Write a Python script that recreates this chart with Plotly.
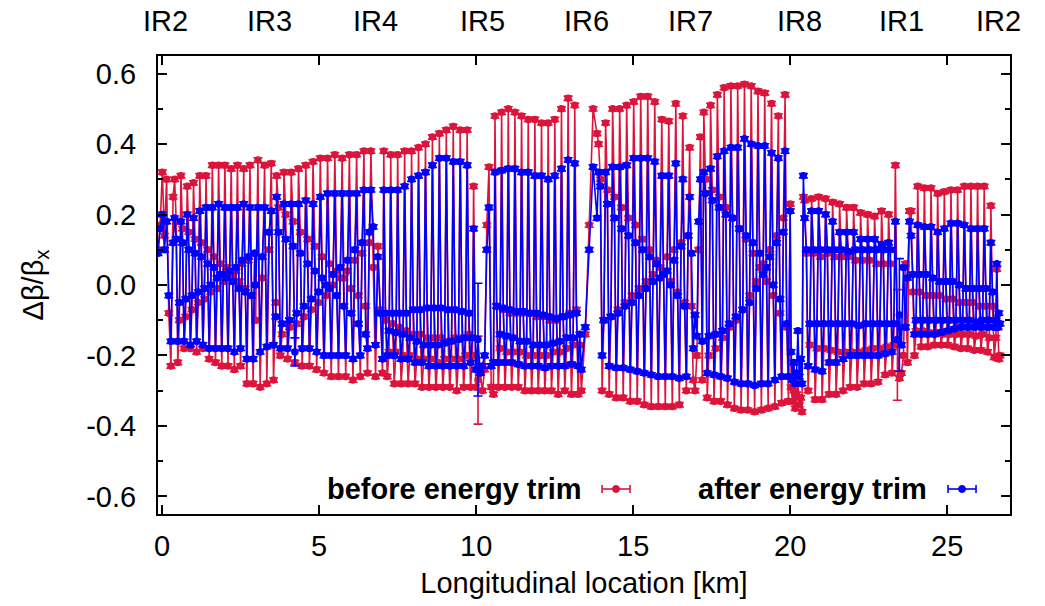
import numpy as np
import plotly.graph_objects as go

FONT = "Liberation Sans, Arial, Helvetica, sans-serif"
RED = "#DC143C"
BLUE = "#0000FF"
FS = 29

# ---------------- axis ticks / labels ----------------
x_tick_vals = [0, 5, 10, 15, 20, 25]
x_tick_text = ["0", "5", "10", "15", "20", "25"]
y_tick_vals = [-0.6, -0.4, -0.2, 0.0, 0.2, 0.4, 0.6]
y_tick_text = ["-0.6", "-0.4", "-0.2", "0.0", "0.2", "0.4", "0.6"]
y_minor_vals = [-0.5, -0.3, -0.1, 0.1, 0.3, 0.5]
ir_names = ["IR2", "IR3", "IR4", "IR5", "IR6", "IR7", "IR8", "IR1", "IR2"]
ir_label_km = [0.10, 3.42, 6.79, 10.2, 13.5, 16.82, 20.3, 23.53, 26.62]

ERR = 0.006  # typical BPM error bar

# ---------------- insertion regions (explicit BPM readings) ----------------
ir2a_km = (-0.13, 0.35)
ir2a_red = [0.10, 0.17, 0.32, 0.14, 0.30, -0.08, -0.23, 0.25]
ir2a_blue = [0.09, 0.16, 0.20, 0.10, 0.18, -0.03, -0.16, 0.12]

ir3_km = (2.98, 3.62)
ir3_red = [-0.10, 0.355, -0.29, 0.02, 0.34, -0.28, 0.10, 0.345, -0.27, -0.05]
ir3_blue = [0.00, 0.22, -0.19, 0.08, 0.22, -0.175, 0.15, 0.21, -0.17, -0.09]

ir4_km = (6.65, 7.02)
ir4_red = [0.38, 0.05, -0.26, 0.11, -0.07, -0.25]
ir4_blue = [0.27, 0.165, -0.17, 0.08, -0.08, -0.21]

ir5_km = (9.92, 10.55)
ir5_red = [0.28, -0.29, -0.27, -0.25, -0.30, -0.24, 0.17, 0.335, -0.29, -0.31]
ir5_red_err = [ERR, ERR, 0.125, ERR, ERR, ERR, ERR, ERR, ERR, ERR]
ir5_blue = [0.16, -0.24, -0.155, -0.25, -0.23, -0.20, 0.10, 0.22, -0.23, -0.22]
ir5_blue_err = [ERR, ERR, 0.16, ERR, ERR, ERR, ERR, ERR, ERR, ERR]

ir6_km = (13.35, 13.85)
ir6_red = [-0.30, -0.14, 0.17, 0.50, 0.43]
ir6_blue = [-0.24, -0.12, 0.10, 0.335, 0.19]

ir7_km = (16.80, 17.20)
ir7_red = [0.39, -0.06, -0.27, -0.30, -0.20, 0.10, 0.42, -0.27]
ir7_blue = [0.25, 0.09, -0.18, -0.085, -0.145, 0.18, 0.30, -0.16]

ir8_km = (20.03, 20.42)
ir8_red = [-0.29, -0.33, -0.30, -0.35, -0.31, -0.28, -0.34, -0.32, -0.36, 0.25]
ir8_blue = [-0.19, -0.27, -0.22, -0.28, -0.25, -0.13, -0.26, -0.21, -0.28, 0.31]

ir1_km = (23.35, 23.80)
ir1_red = [0.34, -0.17, -0.265, -0.25, -0.20, 0.06, -0.22, 0.21]
ir1_red_err = [ERR, 0.157, ERR, ERR, ERR, ERR, ERR, ERR]
ir1_blue = [0.18, -0.155, -0.085, -0.17, 0.05, -0.12, 0.02, 0.18]
ir1_blue_err = [ERR, ERR, 0.16, ERR, ERR, ERR, ERR, ERR]

ir2b_km = (26.58, 26.68)
ir2b_red = [0.045, -0.12, -0.21, -0.20]
ir2b_blue = [0.06, -0.12, -0.08, -0.11]

# ---------------- arcs: readings per BPM family (top, mid A, bottom, mid B) ----------------
arc1_km = (0.40, 2.95)
arc1_red_top = [0.30, 0.31, 0.28, 0.29, 0.31, 0.31, 0.34, 0.34, 0.34, 0.33, 0.34, 0.33, 0.34]
arc1_red_mida = [0.18, 0.16, 0.15, 0.13, 0.12, 0.10, 0.08, 0.06, 0.05, 0.03, 0.01, -0.01, -0.03]
arc1_red_bot = [-0.22, -0.18, -0.18, -0.19, -0.18, -0.21, -0.22, -0.23, -0.23, -0.24, -0.23, -0.28, -0.28]
arc1_red_midb = [-0.10, -0.09, -0.07, -0.05, -0.04, -0.02, -0.01, 0.01, 0.03, 0.04, 0.06, 0.07, 0.09]
arc1_blue_top = [0.19, 0.18, 0.20, 0.19, 0.21, 0.22, 0.22, 0.23, 0.22, 0.22, 0.22, 0.23, 0.22]
arc1_blue_mida = [0.13, 0.12, 0.10, 0.09, 0.08, 0.06, 0.05, 0.03, 0.02, 0.01, -0.01, -0.02, -0.03]
arc1_blue_bot = [-0.16, -0.16, -0.17, -0.16, -0.17, -0.18, -0.18, -0.18, -0.18, -0.19, -0.18, -0.21, -0.21]
arc1_blue_midb = [-0.05, -0.04, -0.03, -0.02, -0.01, 0.00, 0.02, 0.03, 0.04, 0.05, 0.07, 0.08, 0.09]

arc2_km = (3.65, 6.60)
arc2_red_top = [0.31, 0.32, 0.32, 0.33, 0.34, 0.35, 0.36, 0.36, 0.37, 0.36, 0.37, 0.37, 0.38]
arc2_red_mida = [0.22, 0.20, 0.18, 0.15, 0.13, 0.11, 0.08, 0.06, 0.04, 0.02, -0.01, -0.03, -0.06]
arc2_red_bot = [-0.20, -0.21, -0.22, -0.23, -0.23, -0.24, -0.25, -0.26, -0.26, -0.26, -0.27, -0.26, -0.25]
arc2_red_midb = [-0.14, -0.12, -0.11, -0.09, -0.07, -0.05, -0.03, 0.00, 0.02, 0.04, 0.07, 0.09, 0.12]
arc2_blue_top = [0.25, 0.23, 0.23, 0.23, 0.24, 0.23, 0.25, 0.26, 0.26, 0.26, 0.26, 0.26, 0.27]
arc2_blue_mida = [0.15, 0.13, 0.11, 0.09, 0.06, 0.04, 0.02, -0.01, -0.03, -0.06, -0.08, -0.11, -0.14]
arc2_blue_bot = [-0.18, -0.18, -0.19, -0.18, -0.18, -0.19, -0.20, -0.20, -0.20, -0.20, -0.21, -0.20, -0.18]
arc2_blue_midb = [-0.11, -0.10, -0.08, -0.06, -0.04, -0.02, 0.00, 0.03, 0.05, 0.07, 0.10, 0.12, 0.15]

arc3_km = (7.06, 9.88)
arc3_red_top = [0.38, 0.37, 0.37, 0.38, 0.38, 0.39, 0.40, 0.42, 0.43, 0.44, 0.45, 0.44, 0.44]
arc3_red_mida = [-0.10, -0.11, -0.12, -0.13, -0.14, -0.14, -0.15, -0.15, -0.15, -0.16, -0.15, -0.15, -0.14]
arc3_red_bot = [-0.26, -0.28, -0.28, -0.28, -0.28, -0.29, -0.29, -0.29, -0.29, -0.29, -0.30, -0.29, -0.29]
arc3_red_midb = [-0.19, -0.19, -0.20, -0.20, -0.21, -0.21, -0.21, -0.22, -0.21, -0.21, -0.21, -0.20, -0.20]
arc3_blue_top = [0.27, 0.27, 0.27, 0.28, 0.30, 0.31, 0.32, 0.34, 0.36, 0.36, 0.35, 0.35, 0.34]
arc3_blue_mida = [-0.08, -0.08, -0.08, -0.08, -0.07, -0.07, -0.065, -0.065, -0.065, -0.07, -0.07, -0.075, -0.08]
arc3_blue_bot = [-0.20, -0.20, -0.21, -0.21, -0.22, -0.22, -0.23, -0.23, -0.23, -0.23, -0.23, -0.23, -0.22]
arc3_blue_midb = [-0.13, -0.135, -0.14, -0.15, -0.16, -0.17, -0.17, -0.17, -0.165, -0.16, -0.155, -0.15, -0.15]

arc4_km = (10.60, 13.30)
arc4_red_top = [0.48, 0.49, 0.50, 0.49, 0.48, 0.47, 0.47, 0.46, 0.46, 0.47, 0.50, 0.53, 0.51]
arc4_red_mida = [-0.06, -0.07, -0.08, -0.08, -0.08, -0.08, -0.09, -0.09, -0.10, -0.10, -0.09, -0.08, -0.07]
arc4_red_bot = [-0.29, -0.29, -0.29, -0.29, -0.30, -0.30, -0.30, -0.30, -0.30, -0.31, -0.30, -0.31, -0.31]
arc4_red_midb = [-0.18, -0.19, -0.19, -0.19, -0.20, -0.20, -0.20, -0.20, -0.19, -0.19, -0.18, -0.17, -0.17]
arc4_blue_top = [0.32, 0.325, 0.33, 0.33, 0.32, 0.32, 0.31, 0.31, 0.30, 0.31, 0.33, 0.355, 0.345]
arc4_blue_mida = [-0.06, -0.065, -0.07, -0.075, -0.075, -0.08, -0.08, -0.085, -0.09, -0.095, -0.09, -0.085, -0.08]
arc4_blue_bot = [-0.22, -0.22, -0.22, -0.225, -0.23, -0.23, -0.23, -0.235, -0.23, -0.23, -0.23, -0.225, -0.23]
arc4_blue_midb = [-0.14, -0.145, -0.15, -0.16, -0.16, -0.17, -0.17, -0.17, -0.165, -0.16, -0.15, -0.15, -0.14]

arc5_km = (13.90, 16.75)
arc5_red_top = [0.40, 0.46, 0.50, 0.50, 0.51, 0.52, 0.535, 0.535, 0.52, 0.47, 0.465, 0.515, 0.48]
arc5_red_mida = [0.30, 0.27, 0.25, 0.22, 0.19, 0.17, 0.13, 0.10, 0.07, 0.04, 0.01, -0.02, -0.05]
arc5_red_bot = [-0.30, -0.31, -0.32, -0.32, -0.33, -0.33, -0.34, -0.345, -0.345, -0.345, -0.345, -0.34, -0.30]
arc5_red_midb = [-0.10, -0.09, -0.07, -0.05, -0.03, -0.01, 0.01, 0.03, 0.05, 0.08, 0.10, 0.12, 0.14]
arc5_blue_top = [0.32, 0.32, 0.335, 0.335, 0.34, 0.36, 0.36, 0.36, 0.35, 0.31, 0.31, 0.345, 0.30]
arc5_blue_mida = [0.28, 0.23, 0.19, 0.16, 0.14, 0.12, 0.10, 0.08, 0.06, 0.03, 0.00, -0.03, -0.06]
arc5_blue_bot = [-0.20, -0.23, -0.235, -0.235, -0.24, -0.245, -0.25, -0.255, -0.26, -0.26, -0.26, -0.265, -0.26]
arc5_blue_midb = [-0.10, -0.09, -0.08, -0.06, -0.05, -0.03, -0.01, 0.01, 0.02, 0.04, 0.07, 0.11, 0.14]

arc6_km = (17.25, 20.00)
arc6_red_top = [0.49, 0.51, 0.54, 0.56, 0.565, 0.565, 0.57, 0.565, 0.55, 0.545, 0.515, 0.48, 0.54]
arc6_red_mida = [0.30, 0.27, 0.25, 0.22, 0.19, 0.16, 0.13, 0.09, 0.05, 0.01, -0.03, -0.08, -0.12]
arc6_red_bot = [-0.32, -0.33, -0.33, -0.34, -0.35, -0.355, -0.355, -0.36, -0.355, -0.35, -0.345, -0.335, -0.33]
arc6_red_midb = [-0.20, -0.18, -0.15, -0.12, -0.10, -0.07, -0.03, 0.01, 0.06, 0.10, 0.14, 0.19, 0.23]
arc6_blue_top = [0.32, 0.33, 0.365, 0.38, 0.39, 0.39, 0.415, 0.40, 0.395, 0.395, 0.375, 0.36, 0.38]
arc6_blue_mida = [0.26, 0.24, 0.22, 0.20, 0.19, 0.16, 0.14, 0.12, 0.09, 0.05, 0.00, -0.04, -0.11]
arc6_blue_bot = [-0.25, -0.255, -0.26, -0.265, -0.275, -0.28, -0.28, -0.285, -0.28, -0.28, -0.27, -0.26, -0.26]
arc6_blue_midb = [-0.145, -0.14, -0.13, -0.11, -0.09, -0.07, -0.05, -0.01, 0.03, 0.08, 0.12, 0.15, 0.21]

arc7_km = (20.46, 23.30)
arc7_red_top = [0.24, 0.245, 0.25, 0.245, 0.235, 0.23, 0.22, 0.22, 0.205, 0.20, 0.195, 0.21, 0.20]
arc7_red_mida = [0.09, 0.09, 0.08, 0.09, 0.08, 0.08, 0.08, 0.07, 0.07, 0.07, 0.06, 0.06, 0.06]
arc7_red_bot = [-0.30, -0.325, -0.325, -0.31, -0.31, -0.30, -0.29, -0.29, -0.28, -0.28, -0.275, -0.255, -0.25]
arc7_red_midb = [-0.17, -0.18, -0.18, -0.185, -0.19, -0.19, -0.19, -0.19, -0.185, -0.18, -0.18, -0.175, -0.17]
arc7_blue_top = [0.19, 0.21, 0.21, 0.20, 0.18, 0.15, 0.15, 0.15, 0.13, 0.13, 0.13, 0.115, 0.12]
arc7_blue_mida = [0.10, 0.10, 0.10, 0.10, 0.10, 0.10, 0.095, 0.10, 0.10, 0.10, 0.10, 0.10, 0.10]
arc7_blue_bot = [-0.23, -0.24, -0.245, -0.22, -0.22, -0.21, -0.20, -0.20, -0.20, -0.20, -0.20, -0.195, -0.19]
arc7_blue_midb = [-0.11, -0.11, -0.11, -0.11, -0.11, -0.11, -0.11, -0.115, -0.11, -0.11, -0.11, -0.11, -0.11]

arc8_km = (23.85, 26.55)
arc8_red_top = [0.21, 0.28, 0.275, 0.275, 0.26, 0.265, 0.27, 0.27, 0.28, 0.28, 0.28, 0.28, 0.225]
arc8_red_mida = [-0.02, -0.02, -0.03, -0.03, -0.03, -0.04, -0.04, -0.05, -0.05, -0.05, -0.06, -0.06, -0.06]
arc8_red_bot = [-0.20, -0.175, -0.175, -0.17, -0.17, -0.17, -0.175, -0.18, -0.18, -0.185, -0.185, -0.19, -0.205]
arc8_red_midb = [-0.13, -0.13, -0.135, -0.135, -0.14, -0.14, -0.14, -0.14, -0.14, -0.145, -0.14, -0.15, -0.15]
arc8_blue_top = [0.14, 0.17, 0.165, 0.165, 0.15, 0.16, 0.175, 0.175, 0.17, 0.16, 0.16, 0.16, 0.12]
arc8_blue_mida = [0.03, 0.03, 0.03, 0.02, 0.01, 0.01, 0.01, 0.00, -0.01, -0.01, -0.01, -0.01, -0.02]
arc8_blue_bot = [-0.14, -0.14, -0.14, -0.14, -0.135, -0.13, -0.125, -0.12, -0.12, -0.12, -0.12, -0.12, -0.12]
arc8_blue_midb = [-0.10, -0.10, -0.10, -0.10, -0.10, -0.10, -0.10, -0.10, -0.10, -0.105, -0.10, -0.10, -0.10]


def interleave(top, mida, bot, midb):
    """BPM order inside each cell: top, mid A, bottom, mid B."""
    out = []
    for a, b, c, d in zip(top, mida, bot, midb):
        out += [a, b, c, d]
    return out


segments = [
    (ir2a_km, ir2a_red, ir2a_blue, None, None),
    (arc1_km, interleave(arc1_red_top, arc1_red_mida, arc1_red_bot, arc1_red_midb),
     interleave(arc1_blue_top, arc1_blue_mida, arc1_blue_bot, arc1_blue_midb), None, None),
    (ir3_km, ir3_red, ir3_blue, None, None),
    (arc2_km, interleave(arc2_red_top, arc2_red_mida, arc2_red_bot, arc2_red_midb),
     interleave(arc2_blue_top, arc2_blue_mida, arc2_blue_bot, arc2_blue_midb), None, {10: 0.04}),
    (ir4_km, ir4_red, ir4_blue, None, None),
    (arc3_km, interleave(arc3_red_top, arc3_red_mida, arc3_red_bot, arc3_red_midb),
     interleave(arc3_blue_top, arc3_blue_mida, arc3_blue_bot, arc3_blue_midb), None, None),
    (ir5_km, ir5_red, ir5_blue, ir5_red_err, ir5_blue_err),
    (arc4_km, interleave(arc4_red_top, arc4_red_mida, arc4_red_bot, arc4_red_midb),
     interleave(arc4_blue_top, arc4_blue_mida, arc4_blue_bot, arc4_blue_midb), None, None),
    (ir6_km, ir6_red, ir6_blue, None, None),
    (arc5_km, interleave(arc5_red_top, arc5_red_mida, arc5_red_bot, arc5_red_midb),
     interleave(arc5_blue_top, arc5_blue_mida, arc5_blue_bot, arc5_blue_midb), None, None),
    (ir7_km, ir7_red, ir7_blue, None, None),
    (arc6_km, interleave(arc6_red_top, arc6_red_mida, arc6_red_bot, arc6_red_midb),
     interleave(arc6_blue_top, arc6_blue_mida, arc6_blue_bot, arc6_blue_midb), None, None),
    (ir8_km, ir8_red, ir8_blue, None, None),
    (arc7_km, interleave(arc7_red_top, arc7_red_mida, arc7_red_bot, arc7_red_midb),
     interleave(arc7_blue_top, arc7_blue_mida, arc7_blue_bot, arc7_blue_midb), None, None),
    (ir1_km, ir1_red, ir1_blue, ir1_red_err, ir1_blue_err),
    (arc8_km, interleave(arc8_red_top, arc8_red_mida, arc8_red_bot, arc8_red_midb),
     interleave(arc8_blue_top, arc8_blue_mida, arc8_blue_bot, arc8_blue_midb), None, None),
    (ir2b_km, ir2b_red, ir2b_blue, None, None),
]

s_km, red_y, blue_y, red_err, blue_err = [], [], [], [], []
for (a, b), ry, by, rerr, berr in segments:
    xs = np.linspace(a, b, len(ry))
    s_km += list(xs)
    red_y += list(ry)
    blue_y += list(by)
    if isinstance(rerr, list):
        red_err += rerr
    else:
        red_err += [ERR] * len(ry)
    if isinstance(berr, list):
        blue_err += berr
    else:
        be = [ERR] * len(by)
        if isinstance(berr, dict):
            for k, v in berr.items():
                be[k] = v
        blue_err += be

fig = go.Figure()
for name, ys, errs, col in [("before energy trim", red_y, red_err, RED),
                            ("after energy trim", blue_y, blue_err, BLUE)]:
    fig.add_trace(go.Scatter(
        x=s_km, y=ys, mode="lines+markers", name=name, showlegend=False,
        line=dict(color=col, width=1.6),
        marker=dict(color=col, size=7.5, symbol="circle"),
        error_y=dict(type="data", array=errs, visible=True, color=col,
                     thickness=1.6, width=4.5),
    ))

axis_common = dict(
    showline=True, linecolor="black", linewidth=2, mirror="allticks",
    ticks="inside", ticklen=9, tickwidth=1.5, tickcolor="black",
    showgrid=False, zeroline=False,
    tickfont=dict(family=FONT, size=FS, color="black"),
)

fig.update_layout(
    width=1045, height=606,
    margin=dict(l=158, r=35, t=56, b=92),
    paper_bgcolor="white", plot_bgcolor="white",
    font=dict(family=FONT, size=FS, color="black"),
    xaxis=dict(range=[-0.13, 27.0], tickmode="array", tickvals=x_tick_vals,
               ticktext=x_tick_text, ticklabelstandoff=5,
               title=dict(text="Longitudinal location [km]", standoff=12,
                          font=dict(family=FONT, size=FS)),
               **axis_common),
    yaxis=dict(range=[-0.65, 0.65], tickmode="array", tickvals=y_tick_vals,
               ticktext=y_tick_text, ticklabelstandoff=14,
               minor=dict(tickmode="array", tickvals=y_minor_vals, ticks="inside",
                          ticklen=5, tickwidth=1.5, tickcolor="black"),
               title=dict(text="Δβ/β<sub>x</sub>", standoff=34,
                          font=dict(family=FONT, size=FS)),
               **axis_common),
)

# IR labels along top
for name, km in zip(ir_names, ir_label_km):
    fig.add_annotation(x=km, y=1, xref="x", yref="paper", text=name, showarrow=False,
                       xanchor="center", yanchor="middle", yshift=35,
                       font=dict(family=FONT, size=FS, color="black"))

# gnuplot-style key: text then sample
key_y = 0.0546
for label, text_right, sample_x, col in [("before energy trim", 0.50, 0.5376, RED),
                                         ("after energy trim", 0.905, 0.9437, BLUE)]:
    fig.add_annotation(x=text_right, y=key_y, xref="paper", yref="paper",
                       text="<b>%s</b>" % label, showarrow=False,
                       xanchor="right", yanchor="middle",
                       font=dict(family=FONT, size=FS, color="black"))
    common = dict(xref="paper", yref="paper", xsizemode="pixel", ysizemode="pixel",
                  xanchor=sample_x, yanchor=key_y)
    fig.add_shape(type="line", x0=-14, x1=14, y0=0, y1=0,
                  line=dict(color=col, width=1.6), **common)
    fig.add_shape(type="line", x0=-14, x1=-14, y0=-4, y1=4,
                  line=dict(color=col, width=1.6), **common)
    fig.add_shape(type="line", x0=14, x1=14, y0=-4, y1=4,
                  line=dict(color=col, width=1.6), **common)
    fig.add_shape(type="circle", x0=-3.5, x1=3.5, y0=-3.5, y1=3.5,
                  fillcolor=col, line=dict(color=col, width=1), **common)

fig.write_html("out.html")
